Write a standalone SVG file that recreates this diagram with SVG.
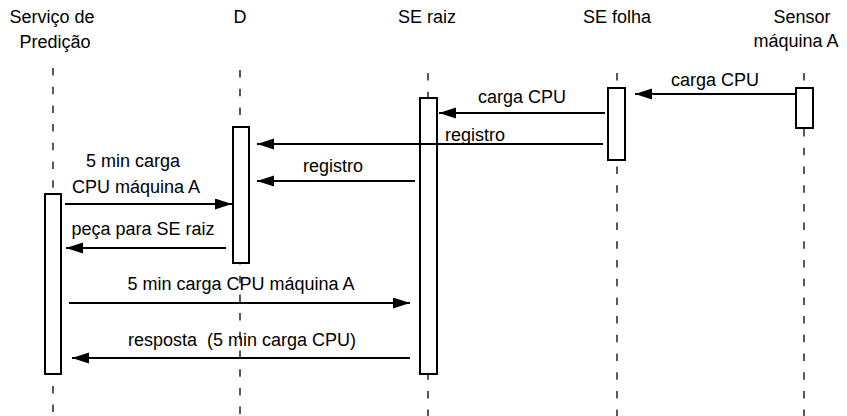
<svg xmlns="http://www.w3.org/2000/svg" width="847" height="416" viewBox="0 0 847 416">
  <style>
    text { font-family: "Liberation Sans", Arial, sans-serif; font-size: 18px; fill: #000; }
    .c { text-anchor: middle; }
    .life { stroke: #000; stroke-width: 1.3; stroke-dasharray: 7.5 11.2; fill: none; }
    .act { fill: #fff; stroke: #000; stroke-width: 2; }
    .msg { stroke: #000; stroke-width: 2; fill: none; marker-end: url(#head); }
  </style>
  <defs>
    <marker id="head" markerUnits="userSpaceOnUse" markerWidth="18" markerHeight="12" refX="17" refY="5.5" orient="auto">
      <path d="M0,0 L17,5.5 L0,11 z" fill="#000"/>
    </marker>
  </defs>

  <!-- participants: header, lifeline, activation bar -->
  <g id="servico-predicao">
    <text class="c" x="52" y="23">Serviço de</text>
    <text class="c" x="55" y="48">Predição</text>
    <line class="life" x1="53" y1="68" x2="53" y2="416"/>
    <rect class="act" x="45" y="194" width="16" height="180"/>
  </g>
  <g id="d">
    <text class="c" x="240" y="23">D</text>
    <line class="life" x1="240" y1="70" x2="240" y2="416"/>
    <rect class="act" x="233" y="127" width="16" height="136"/>
  </g>
  <g id="se-raiz">
    <text class="c" x="427" y="23">SE raiz</text>
    <line class="life" x1="428" y1="73" x2="428" y2="416"/>
    <rect class="act" x="420" y="98" width="17" height="276"/>
  </g>
  <g id="se-folha">
    <text class="c" x="617" y="23">SE folha</text>
    <line class="life" x1="617" y1="73" x2="617" y2="416"/>
    <rect class="act" x="608" y="88" width="17" height="72"/>
  </g>
  <g id="sensor-maquina-a">
    <text class="c" x="802" y="23">Sensor</text>
    <text class="c" x="796" y="47">máquina A</text>
    <line class="life" x1="804" y1="73" x2="804" y2="416"/>
    <rect class="act" x="796" y="88" width="17" height="40"/>
  </g>

  <!-- messages -->
  <g id="messages">
    <line class="msg" x1="795" y1="94" x2="635" y2="94"/>
    <text class="c" x="715" y="86">carga CPU</text>

    <line class="msg" x1="605" y1="113" x2="439" y2="113"/>
    <text class="c" x="522" y="103">carga CPU</text>

    <line class="msg" x1="603" y1="144" x2="257" y2="144"/>
    <text x="445" y="141">registro</text>

    <line class="msg" x1="415" y1="181" x2="257" y2="181"/>
    <text class="c" x="333" y="172">registro</text>

    <line class="msg" x1="65" y1="204" x2="232" y2="204"/>
    <text class="c" x="133" y="167">5 min carga</text>
    <text class="c" x="136" y="193">CPU máquina A</text>

    <line class="msg" x1="226" y1="248" x2="66" y2="248"/>
    <text class="c" x="143" y="235">peça para SE raiz</text>

    <line class="msg" x1="69" y1="303" x2="410" y2="303"/>
    <text class="c" x="241" y="290">5 min carga CPU máquina A</text>

    <line class="msg" x1="410" y1="358" x2="72" y2="358"/>
    <text class="c" x="242" y="346" xml:space="preserve">resposta  (5 min carga CPU)</text>
  </g>
</svg>
